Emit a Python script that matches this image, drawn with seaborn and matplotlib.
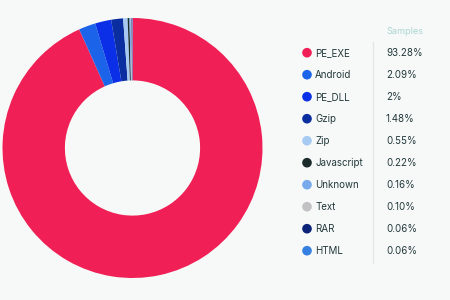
import matplotlib
matplotlib.use("Agg")
import matplotlib.pyplot as plt
import seaborn as sns
import pandas as pd

categories = ["PE_EXE", "Android", "PE_DLL", "Gzip", "Zip", "Javascript", "Unknown", "Text", "RAR", "HTML"]
values = [93.28, 2.09, 2.0, 1.48, 0.55, 0.22, 0.16, 0.10, 0.06, 0.06]
value_labels = ["93.28%", "2.09%", "2%", "1.48%", "0.55%", "0.22%", "0.16%", "0.10%", "0.06%", "0.06%"]
colors = ["#f01f55", "#1b63e8", "#0a2fe6", "#0a2ea0", "#a6caf2", "#1b2b2a", "#78a9ea", "#c2c2c4", "#0b2378", "#3580e0"]
header = "Samples"

sns.set_theme(style="white")
plt.rcParams['font.family'] = ['Inter', 'DejaVu Sans']
bg = "#f7f8f8"
txt = "#23393a"

W, H = 450, 300
fig = plt.figure(figsize=(4.5, 3), dpi=100, facecolor=bg)

cx, cy, r = 132.5, 148, 130
ax = fig.add_axes([(cx - r) / W, (H - cy - r) / H, 2 * r / W, 2 * r / H])
ax.set_facecolor(bg)
ax.pie(values, colors=colors, startangle=90, counterclock=False, radius=1,
       wedgeprops=dict(width=0.48, edgecolor="none", linewidth=0))
ax.set_xlim(-1, 1)
ax.set_ylim(-1, 1)
ax.set_aspect("equal")
ax.axis("off")

lax = fig.add_axes([0, 0, 1, 1], facecolor="none")
lax.set_xlim(0, W)
lax.set_ylim(H, 0)
lax.axis("off")

df = pd.DataFrame({"cat": categories, "row": range(len(categories))})
df["y"] = 52.7 + 22 * df["row"]
df["x"] = 307
sns.scatterplot(data=df, x="x", y="y", hue="cat", palette=colors, s=48,
                edgecolor="none", legend=False, ax=lax)
for i, (c, v) in enumerate(zip(categories, value_labels)):
    y = 52.7 + 22 * i
    lax.text(315, y, c, fontsize=7, color=txt, va="center", ha="left")
    lax.text(386, y, v, fontsize=7, color=txt, va="center", ha="left")
lax.text(386, 31, header, fontsize=6.5, color="#a9d6d2", va="center", ha="left")
lax.plot([373, 373], [42, 263], color="#e3e6e6", lw=1)

fig.savefig("out.png", dpi=100, facecolor=bg)
